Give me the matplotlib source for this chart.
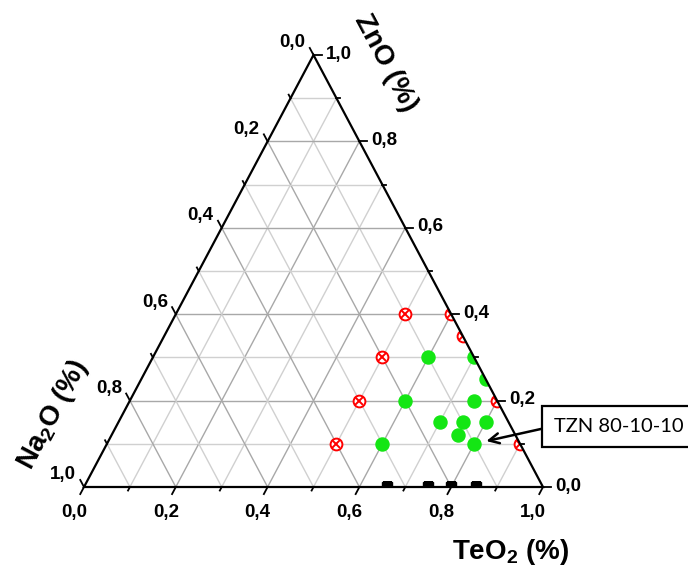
import matplotlib.pyplot as plt
from matplotlib.patches import Polygon

plt.rcParams['font.family'] = ['Liberation Sans', 'DejaVu Sans']
plt.rcParams['mathtext.fontset'] = 'custom'
plt.rcParams['mathtext.rm'] = 'Liberation Sans'
plt.rcParams['mathtext.bf'] = 'Liberation Sans:bold'

# compositions as (TeO2, ZnO) fractions, Na2O = 1 - TeO2 - ZnO
red_teo2 = [0.5, 0.6, 0.65, 0.8, 0.9, 0.5, 0.5, 0.5]
red_zno = [0.4, 0.4, 0.35, 0.2, 0.1, 0.3, 0.2, 0.1]

green_teo2 = [0.6, 0.7, 0.75, 0.6, 0.75, 0.7, 0.75, 0.8, 0.755, 0.8, 0.6]
green_zno = [0.3, 0.3, 0.25, 0.2, 0.2, 0.15, 0.15, 0.15, 0.12, 0.1, 0.1]

black_teo2 = [0.66, 0.75, 0.80, 0.855]
black_zno = [0.0, 0.0, 0.0, 0.0]

ticks = [0.0, 0.2, 0.4, 0.6, 0.8, 1.0]
minor_ticks = [0.1, 0.3, 0.5, 0.7, 0.9]

PX_X = 459.0   # pixels per unit along x
PX_Y = 432.0   # pixels per unit along y


def tern(te, zn):
    return te + zn / 2.0, zn


def tern_list(te_list, zn_list):
    xs = [t + z / 2.0 for t, z in zip(te_list, zn_list)]
    return xs, list(zn_list)


def px(dx, dy):
    # screen pixel offset (y down) -> data offset
    return dx / PX_X, -dy / PX_Y


fig = plt.figure(figsize=(6.88, 5.70), dpi=100)
ax = fig.add_axes([0, 0, 1, 1])
ax.set_xlim(-84 / PX_X, (688 - 84) / PX_X)
ax.set_ylim(-83 / PX_Y, (570 - 83) / PX_Y)
ax.axis('off')

# grid
for i in range(1, 10):
    v = i / 10.0
    col = '#a8a8a8' if i % 2 == 0 else '#d0d0d0'
    segs = [(tern(0, v), tern(1 - v, v)),
            (tern(v, 0), tern(v, 1 - v)),
            (tern(1 - v, 0), tern(0, 1 - v))]
    for a, b in segs:
        ax.plot([a[0], b[0]], [a[1], b[1]], color=col, lw=1.0, zorder=1)

# triangle frame
tri = [tern(0, 0), tern(1, 0), tern(0, 1)]
frame = Polygon(tri, closed=True, fill=False, edgecolor='black', lw=1.6, zorder=5)
ax.add_patch(frame)
clip_tri = Polygon(tri, closed=True, transform=ax.transData)

# ticks
bottom_dir = (-0.468, 0.883)
right_dir = (1.0, 0.0)
left_dir = (-0.47, -0.883)
fs = 13.5
for v, L in [(t, 8) for t in ticks] + [(t, 4) for t in minor_ticks]:
    # bottom: TeO2
    x0, y0 = tern(v, 0)
    ddx, ddy = px(bottom_dir[0] * L, bottom_dir[1] * L)
    ax.plot([x0, x0 + ddx], [y0, y0 + ddy], color='black', lw=1.3, zorder=5)
    # right: ZnO
    x0, y0 = tern(1 - v, v)
    ddx, ddy = px(right_dir[0] * L, right_dir[1] * L)
    ax.plot([x0, x0 + ddx], [y0, y0 + ddy], color='black', lw=1.3, zorder=5)
    # left: Na2O
    x0, y0 = tern(0, 1 - v)
    ddx, ddy = px(left_dir[0] * L, left_dir[1] * L)
    ax.plot([x0, x0 + ddx], [y0, y0 + ddy], color='black', lw=1.3, zorder=5)

for v in ticks:
    lab = f"{v:.1f}".replace('.', ',')
    ax.annotate(lab, tern(v, 0), xytext=(-10, -26), textcoords='offset pixels',
                ha='center', va='center', fontsize=fs, fontweight='bold')
    ax.annotate(lab, tern(1 - v, v), xytext=(12, 1), textcoords='offset pixels',
                ha='left', va='center', fontsize=fs, fontweight='bold')
    ax.annotate(lab, tern(0, 1 - v), xytext=(-8, 12), textcoords='offset pixels',
                ha='right', va='center', fontsize=fs, fontweight='bold')

# data points
xs, ys = tern_list(black_teo2, black_zno)
ln, = ax.plot(xs, ys, 's', ms=7.5, color='black', zorder=4)
ln.set_clip_path(clip_tri)

xs, ys = tern_list(red_teo2, red_zno)
ln1, = ax.plot(xs, ys, 'o', ms=8.5, mfc='white', mec='red', mew=1.4, zorder=4)
ln2, = ax.plot(xs, ys, 'x', ms=6, color='red', mew=1.4, zorder=4)
ln1.set_clip_path(clip_tri)
ln2.set_clip_path(clip_tri)

xs, ys = tern_list(green_teo2, green_zno)
ln, = ax.plot(xs, ys, 'o', ms=9.4, color='#14e614', mec='#14e614', zorder=4)
ln.set_clip_path(clip_tri)

# axis titles
ax.text(0.930, -0.150, 'TeO$_\\mathbf{2}$ (%)', fontsize=20, fontweight='bold',
        ha='center', va='center')
ax.text(0.656, 0.981, 'ZnO (%)', fontsize=20, fontweight='bold',
        ha='center', va='center', rotation=-62)
ax.text(-0.068, 0.167, 'Na$_\\mathbf{2}$O (%)', fontsize=20, fontweight='bold',
        ha='center', va='center', rotation=62)

# annotation
ax.annotate('TZN 80-10-10', xy=tern(0.8, 0.1), xytext=(1.165, 0.141),
            fontsize=14.5, family='Lato', ha='center', va='center',
            bbox=dict(boxstyle='square,pad=0.6', fc='white', ec='black', lw=1.6),
            arrowprops=dict(arrowstyle='->', color='black', lw=1.8,
                            shrinkA=0, shrinkB=9, relpos=(0, 0.5),
                            mutation_scale=18))

fig.savefig('out.png', dpi=100)
